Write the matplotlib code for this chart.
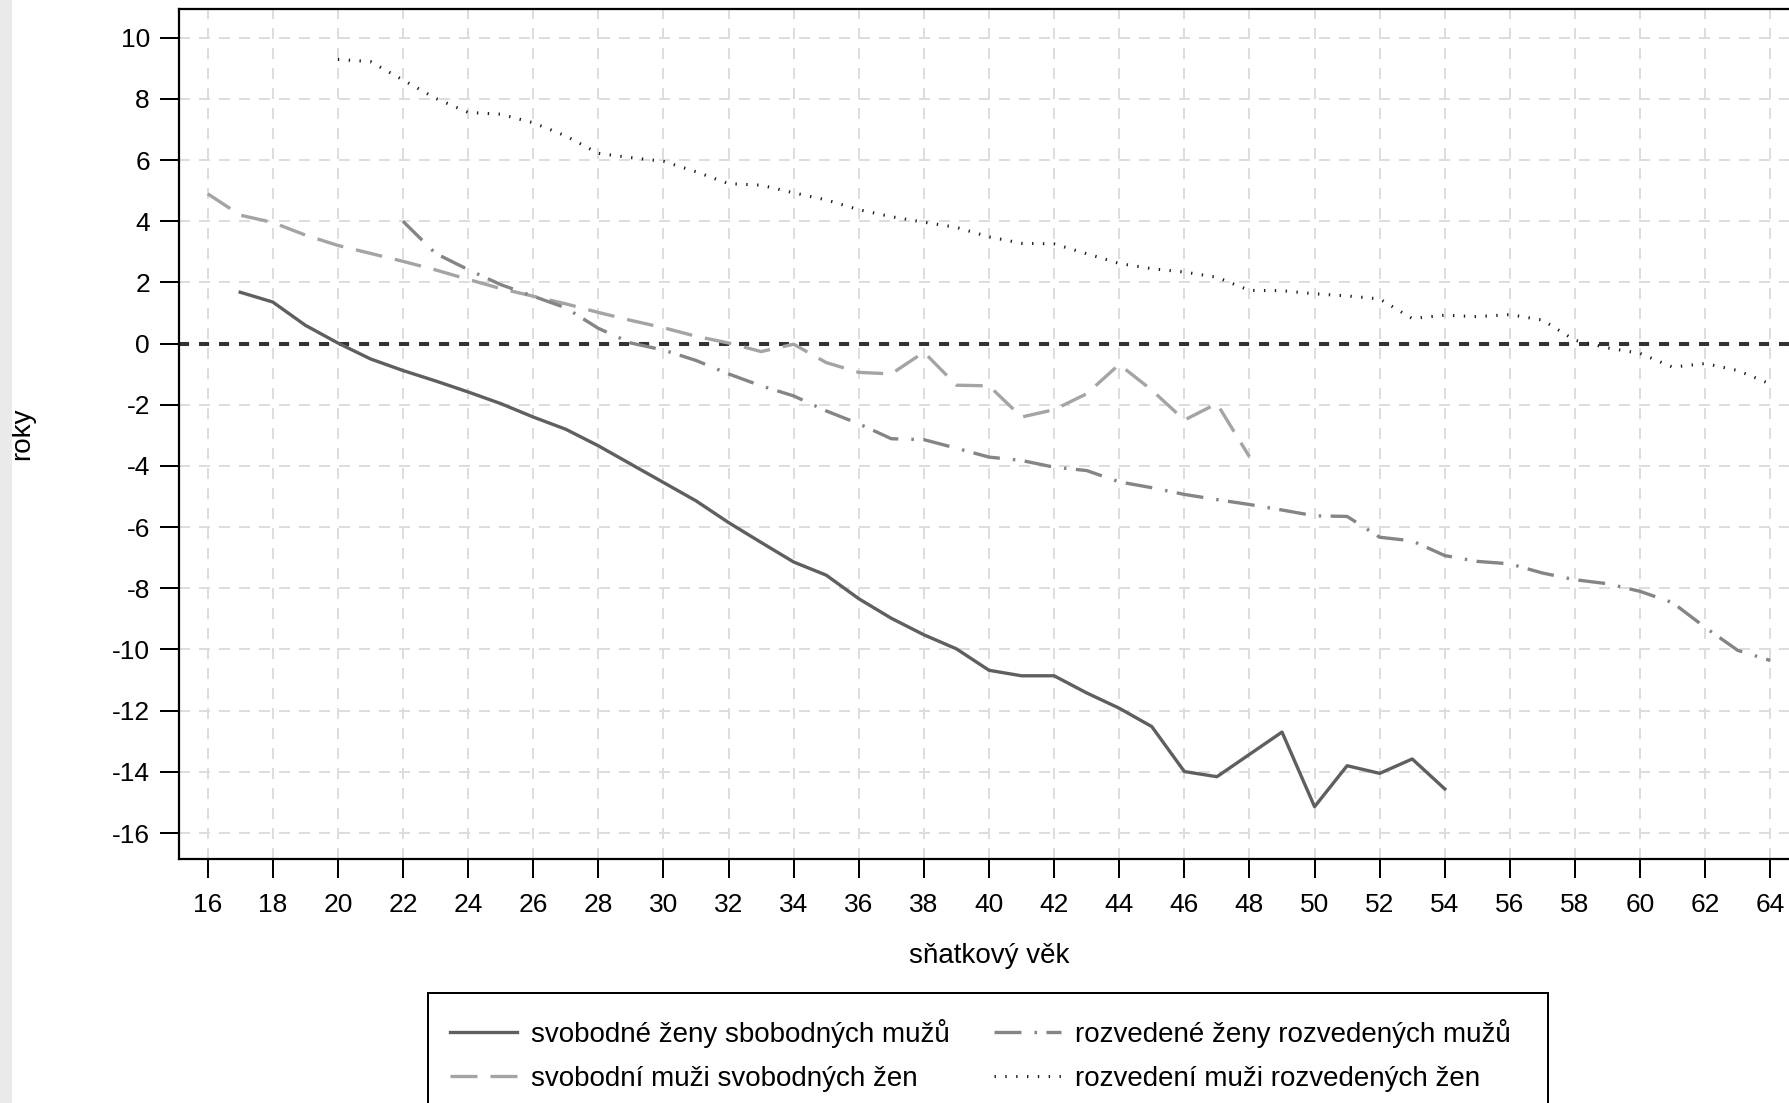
import matplotlib
matplotlib.use('Agg')
import matplotlib.pyplot as plt
from matplotlib.patches import Rectangle

plt.rcParams['font.family'] = ['Liberation Sans', 'DejaVu Sans']
plt.rcParams['axes.unicode_minus'] = False
plt.rcParams['lines.scale_dashes'] = False

# ---- data ----
ages_sz = list(range(17, 55))
svobodne_zeny = [1.68, 1.36, 0.6, 0.02, -0.5, -0.88, -1.22, -1.58, -1.96, -2.4,
                 -2.8, -3.34, -3.94, -4.54, -5.14, -5.85, -6.5, -7.14, -7.57, -8.34,
                 -8.98, -9.52, -9.98, -10.68, -10.86, -10.86, -11.42, -11.92, -12.52, -13.99,
                 -14.16, -13.43, -12.7, -15.14, -13.8, -14.05, -13.58, -14.56]

ages_sm = list(range(16, 49))
svobodni_muzi = [4.9, 4.2, 3.96, 3.55, 3.21, 2.95, 2.69, 2.41, 2.1, 1.8,
                 1.55, 1.3, 1.02, 0.76, 0.52, 0.24, 0.02, -0.26, -0.02, -0.62,
                 -0.94, -0.99, -0.28, -1.36, -1.38, -2.4, -2.16, -1.64, -0.68, -1.52,
                 -2.5, -1.96, -3.7]

ages_rz = list(range(22, 65))
rozvedene_zeny = [4.0, 2.95, 2.42, 1.93, 1.55, 1.17, 0.5, 0.02, -0.21, -0.55,
                  -0.99, -1.38, -1.71, -2.2, -2.62, -3.11, -3.14, -3.42, -3.71, -3.82,
                  -4.04, -4.15, -4.52, -4.71, -4.93, -5.1, -5.26, -5.44, -5.63, -5.65,
                  -6.33, -6.45, -6.93, -7.12, -7.2, -7.5, -7.72, -7.85, -8.1, -8.47,
                  -9.28, -10.03, -10.36]

ages_rm = list(range(20, 65))
rozvedeni_muzi = [9.29, 9.22, 8.62, 8.02, 7.56, 7.5, 7.22, 6.79, 6.22, 6.08,
                  5.96, 5.62, 5.23, 5.18, 4.93, 4.7, 4.38, 4.15, 3.97, 3.8,
                  3.49, 3.28, 3.26, 2.94, 2.62, 2.45, 2.34, 2.17, 1.74, 1.73,
                  1.63, 1.56, 1.46, 0.82, 0.93, 0.88, 0.95, 0.77, 0.11, -0.14,
                  -0.32, -0.77, -0.65, -0.88, -1.32]

labels = ['svobodné ženy sbobodných mužů', 'svobodní muži svobodných žen',
          'rozvedené ženy rozvedených mužů', 'rozvedení muži rozvedených žen']
xticks = list(range(16, 65, 2))
yticks = list(range(-16, 11, 2))
xlabel = 'sňatkový věk'
ylabel = 'roky'

# ---- figure ----
W, H = 1789, 1103
fig = plt.figure(figsize=(W / 100, H / 100), dpi=100)
fig.patches.append(Rectangle((0, 0), 12 / W, 1, transform=fig.transFigure,
                             facecolor='#eaeaea', edgecolor='none', zorder=0))

ax = fig.add_axes([179 / W, (H - 859) / H, (1799 - 179) / W, (859 - 9) / H])
ax.set_xlim(15.12, 64.88)
ax.set_ylim(-16.85, 10.94)

lw = 2.4
ax.axhline(0, color='#333333', lw=2.9, ls=(0, (7.2, 7.2)), zorder=1.5)

l1, = ax.plot(ages_sz, svobodne_zeny, color='#5f5f5f', lw=lw, zorder=3,
              solid_joinstyle='round')
l2, = ax.plot(ages_sm, svobodni_muzi, color='#a4a4a4', lw=lw, zorder=3,
              ls=(0, (19.4, 9.4)), dash_capstyle='butt')
l3, = ax.plot(ages_rz, rozvedene_zeny, color='#858585', lw=lw, zorder=3,
              ls=(0, (19.4, 9.4, 1.8, 6.8)), dash_capstyle='butt')
l4, = ax.plot(ages_rm, rozvedeni_muzi, color='#1e1e1e', lw=2.2, zorder=3,
              ls=(0, (1.0, 6.8)), dash_capstyle='butt')

ax.set_xticks(xticks)
ax.set_yticks(yticks)
ax.grid(True, color='#dddddd', lw=1.44, ls=(0, (7.9, 6.5)))
ax.set_axisbelow(True)

for side in ['left', 'bottom', 'top', 'right']:
    ax.spines[side].set_linewidth(1.6)
    ax.spines[side].set_color('black')

ax.tick_params(axis='both', direction='out', length=13.7, width=1.44,
               labelsize=19, color='black')
ax.tick_params(axis='x', pad=11.0)
ax.tick_params(axis='y', pad=7.2)

ax.set_xlabel(xlabel, fontsize=20, labelpad=18.5)
ax.set_ylabel(ylabel, fontsize=20)
ax.yaxis.set_label_coords(-0.089, 0.5)

# legend frame (box runs past the bottom edge of the picture)
fig.patches.append(Rectangle((428 / W, -0.05), (1548 - 428) / W, 0.05 + (H - 993) / H,
                             transform=fig.transFigure, facecolor='white',
                             edgecolor='black', linewidth=1.44, zorder=1))
leg = fig.legend([l1, l2, l3, l4], labels, ncol=2, loc='upper left',
                 bbox_to_anchor=(428 / W, 1 - 996.5 / H), fontsize=20,
                 frameon=False, borderpad=0.8, handlelength=2.41, handletextpad=0.5,
                 labelspacing=0.64, columnspacing=1.6, borderaxespad=0)
leg.set_zorder(2)

fig.savefig('out.png', dpi=100, facecolor='white')
